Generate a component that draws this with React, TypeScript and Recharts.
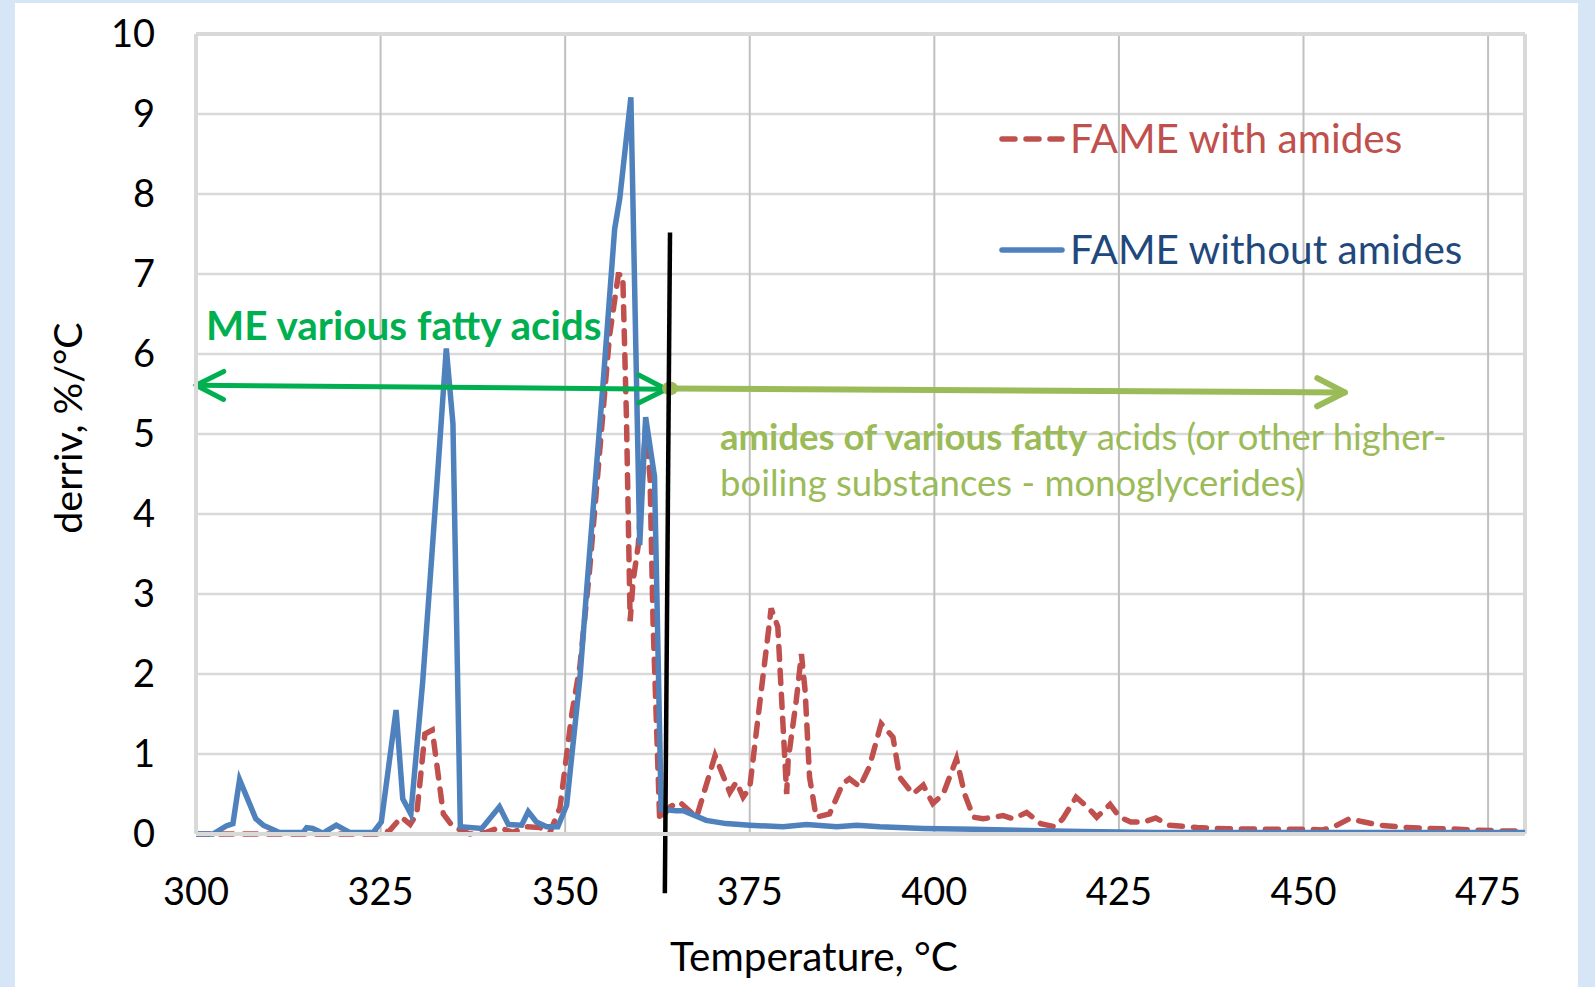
import React from 'react';
import { LineChart, Line, XAxis, YAxis, CartesianGrid, ReferenceLine, Customized } from 'recharts';

// temperature (°C) and derivative (%/°C)
const withAmidesT = [
  300, 324.9, 326.2, 327.8, 329.0, 329.9, 331.0, 332.0, 332.6, 333.5, 334.8, 337.1, 339.3, 341.1, 342.9,
  344.8, 346.6, 347.9, 349.3, 350.9, 352.0, 353.3, 356.0, 357.2, 357.8, 358.3, 358.8, 359.2, 359.9, 360.9,
  361.5, 361.9, 362.8, 364.2, 365.5, 367.8, 370.3, 372.3, 373.2, 374.1, 375.0, 376.4, 377.9, 378.8, 380.0,
  380.2, 381.3, 382.0, 382.5, 383.1, 384.0, 385.8, 387.6, 388.5, 389.9, 391.2, 392.8, 394.4, 395.3, 397.1,
  398.5, 399.8, 401.2, 403.0, 404.1, 405.3, 406.6, 409.3, 410.7, 412.5, 414.4, 416.3, 417.4, 419.2, 420.7,
  422.0, 423.8, 425.1, 426.6, 428.4, 430.0, 431.8, 435.6, 439.7, 444.9, 450.0, 452.6, 454.1, 456.2, 458.2,
  460.3, 463.4, 466.4, 469.5, 473.1, 476.2, 479.8,
];
const withAmidesV = [
  0, 0, 0.04, 0.21, 0.12, 0.25, 1.25, 1.3, 0.88, 0.25, 0.09, 0, 0.02, 0.08, 0.02,
  0.09, 0.08, 0.01, 0.33, 1.5, 2.1, 3.29, 6.22, 6.99, 6.99, 5.21, 2.66, 3.16, 3.61, 5.1,
  4.44, 2.66, 0.17, 0.34, 0.4, 0.21, 0.98, 0.52, 0.65, 0.46, 0.58, 1.67, 2.82, 2.59, 0.5,
  0.92, 1.67, 2.25, 1.79, 0.71, 0.21, 0.25, 0.63, 0.69, 0.59, 0.84, 1.38, 1.21, 0.71, 0.5,
  0.61, 0.38, 0.5, 0.94, 0.5, 0.21, 0.19, 0.23, 0.19, 0.27, 0.13, 0.09, 0.19, 0.46, 0.34,
  0.21, 0.37, 0.21, 0.15, 0.15, 0.2, 0.11, 0.08, 0.065, 0.06, 0.06, 0.05, 0.09, 0.19, 0.15,
  0.11, 0.085, 0.07, 0.065, 0.05, 0.04, 0.035,
];
const withoutAmidesT = [
  300, 302.3, 304.1, 305.0, 305.9, 308.1, 309.1, 311.3, 314.5, 315.0, 315.8, 317.2, 319.0, 320.8, 324.0,
  325.1, 327.1, 328.0, 329.1, 330.7, 331.8, 332.8, 333.9, 334.8, 335.8, 338.7, 341.1, 342.3, 344.1, 345.0,
  346.1, 347.5, 349.0, 350.2, 352.0, 352.9, 355.1, 356.7, 357.4, 358.9, 360.1, 360.9, 362.1, 363.0, 365.0,
  366.0, 369.1, 371.8, 375.0, 379.5, 382.7, 386.8, 389.5, 392.6, 398.5, 405.3, 414.3, 420, 430, 450, 480,
];
const withoutAmidesV = [
  0, 0, 0.1, 0.13, 0.68, 0.19, 0.11, 0.02, 0.02, 0.08, 0.07, 0.01, 0.11, 0.02, 0.02,
  0.15, 1.55, 0.44, 0.25, 1.9, 3.3, 4.6, 6.07, 5.13, 0.09, 0.07, 0.34, 0.12, 0.11, 0.28,
  0.15, 0.09, 0.09, 0.36, 1.95, 3.04, 5.59, 7.56, 7.95, 9.21, 3.61, 5.21, 4.47, 0.31, 0.29,
  0.29, 0.17, 0.13, 0.11, 0.09, 0.12, 0.09, 0.11, 0.09, 0.07, 0.06, 0.04, 0.03, 0.02, 0.02, 0.02,
];
const xTicks = [300, 325, 350, 375, 400, 425, 450, 475];
const yTicks = [0, 1, 2, 3, 4, 5, 6, 7, 8, 9, 10];

const withAmides = withAmidesT.map((t, i) => ({ t, v: withAmidesV[i] }));
const withoutAmides = withoutAmidesT.map((t, i) => ({ t, v: withoutAmidesV[i] }));

const FONT = 'Lato, "Open Sans", sans-serif';
const RED = '#c0504d';
const BLUE = '#4f81bd';
const GREEN = '#00b050';
const LIGHT_GREEN = '#9bbb59';
const FRAME = '#d9d9d9';

const arrowHead = (x: number, y: number, ang: number) => {
  const L = 31;
  const s = 0.47;
  return `M${x - L * Math.cos(ang - s)},${y - L * Math.sin(ang - s)} L${x},${y} L${x - L * Math.cos(ang + s)},${y - L * Math.sin(ang + s)}`;
};

// both ends pointed
const DoubleArrow = (p: any) => {
  const { x1, y1, x2, y2 } = p;
  const a = Math.atan2(y2 - y1, x2 - x1);
  return (
    <g stroke={GREEN} strokeWidth={5} fill="none" strokeLinecap="round" strokeLinejoin="round">
      <line x1={x1} y1={y1} x2={x2} y2={y2} />
      <path d={arrowHead(x2, y2, a)} />
      <path d={arrowHead(x1, y1, a + Math.PI)} />
    </g>
  );
};

// dot at the start, arrow at the end
const DotArrow = (p: any) => {
  const { x1, y1, x2, y2 } = p;
  const a = Math.atan2(y2 - y1, x2 - x1);
  return (
    <g stroke={LIGHT_GREEN} strokeWidth={6} fill="none" strokeLinecap="round" strokeLinejoin="round">
      <line x1={x1} y1={y1} x2={x2} y2={y2} />
      <path d={arrowHead(x2, y2, a)} />
      <ellipse cx={x1} cy={y1} rx={8} ry={7} fill={LIGHT_GREEN} stroke="none" />
    </g>
  );
};

const BlackLine = (p: any) => (
  <line x1={p.x1} y1={p.y1} x2={p.x2} y2={p.y2} stroke="#000" strokeWidth={4.5} />
);

const Texts = () => (
  <g fontFamily={FONT}>
    <text x={66} y={428} fontSize={39.5} textAnchor="middle" dominantBaseline="central" transform="rotate(-90 66 428)" fill="#000">
      derriv, %/°C
    </text>
    <text x={814} y={971} fontSize={40.5} textAnchor="middle" fill="#000">Temperature, °C</text>

    <line x1={1002} y1={139} x2={1062} y2={139} stroke={RED} strokeWidth={5.5} strokeDasharray="13 11" strokeLinecap="round" />
    <text x={1070} y={153} fontSize={40.5} fill={RED}>FAME with amides</text>
    <line x1={1002} y1={250} x2={1062} y2={250} stroke={BLUE} strokeWidth={5.5} strokeLinecap="round" />
    <text x={1070} y={264} fontSize={40.5} fill="#1f497d">FAME without amides</text>

    <text x={206} y={340} fontSize={40.5} fontWeight="bold" fill={GREEN}>ME various fatty acids</text>
    <text x={720} y={450} fontSize={36.5} fill={LIGHT_GREEN}>
      <tspan fontWeight="bold">amides of various fatty</tspan> acids (or other higher-
    </text>
    <text x={720} y={496} fontSize={36.5} fill={LIGHT_GREEN}>boiling substances - monoglycerides)</text>
  </g>
);

export default function App() {
  return (
    <div style={{ position: 'absolute', left: 0, top: 0, width: 1595, height: 987, background: '#d7e6f6' }}>
      <div style={{ position: 'absolute', left: 15, top: 3, width: 1563, height: 984, background: '#fff' }} />
      <div style={{ position: 'absolute', left: 0, top: 0 }}>
        <LineChart width={1595} height={987} margin={{ top: 34, right: 70, left: 0, bottom: 0 }}>
          <CartesianGrid vertical={false} stroke={FRAME} strokeWidth={2.5} />
          <CartesianGrid horizontal={false} stroke="#c0c0c0" strokeWidth={2} />
          <XAxis
            type="number"
            dataKey="t"
            domain={[300, 480]}
            ticks={xTicks}
            allowDataOverflow
            height={153}
            tickLine={false}
            tickSize={0}
            tickMargin={44}
            axisLine={{ stroke: FRAME, strokeWidth: 4 }}
            tick={{ fill: '#000', fontSize: 38, fontFamily: FONT }}
          />
          <YAxis
            type="number"
            domain={[0, 10]}
            ticks={yTicks}
            width={196}
            tickLine={false}
            tickSize={0}
            tickMargin={41}
            axisLine={{ stroke: FRAME, strokeWidth: 4 }}
            tick={{ fill: '#000', fontSize: 38, fontFamily: FONT }}
          />
          <ReferenceLine y={10} stroke={FRAME} strokeWidth={4} />
          <ReferenceLine x={480} stroke={FRAME} strokeWidth={4} />
          <Line
            data={withAmides}
            dataKey="v"
            type="linear"
            stroke={RED}
            strokeWidth={5.5}
            strokeDasharray="13 11"
            strokeLinecap="round"
            dot={false}
            isAnimationActive={false}
          />
          <Line
            data={withoutAmides}
            dataKey="v"
            type="linear"
            stroke={BLUE}
            strokeWidth={5.5}
            dot={false}
            isAnimationActive={false}
          />
          <ReferenceLine segment={[{ x: 300, y: 5.61 }, { x: 363.7, y: 5.56 }]} shape={DoubleArrow} ifOverflow="visible" />
          <ReferenceLine segment={[{ x: 364.2, y: 5.57 }, { x: 455.6, y: 5.52 }]} shape={DotArrow} ifOverflow="visible" />
          <ReferenceLine segment={[{ x: 364.2, y: 7.52 }, { x: 363.5, y: -0.74 }]} shape={BlackLine} ifOverflow="visible" />
          <Customized component={Texts} />
        </LineChart>
      </div>
    </div>
  );
}
